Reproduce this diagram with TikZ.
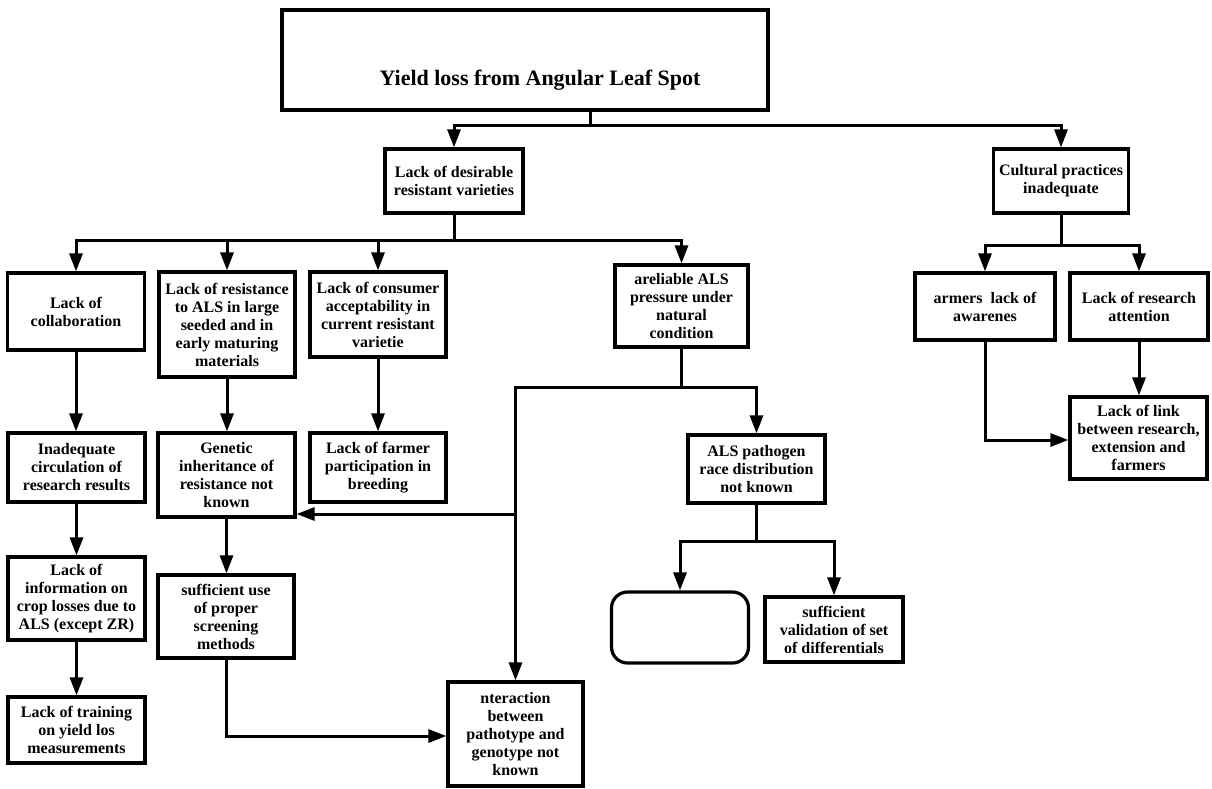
\documentclass[tikz,border=0pt]{standalone}
\usepackage{fontspec}
\setmainfont{Liberation Serif}
\usetikzlibrary{arrows.meta}
\begin{document}
\begin{tikzpicture}[x=1pt,y=-1pt,
  box/.style={draw, line width=3.2pt, align=center, inner sep=2pt,
    font=\fontsize{16}{18}\selectfont\bfseries},
  conn/.style={line width=3pt},
  arr/.style={conn, -{Triangle[length=18pt,width=13pt]}},
]
\useasboundingbox (0,0) rectangle (1212,788);

% root
\node[box, minimum width=486pt, minimum height=100pt, font=\fontsize{22}{26}\selectfont\bfseries]
  (title) at (525,60) {\rule{0pt}{55pt}\hspace*{30pt}Yield loss from Angular Leaf Spot};

% first level
\node[box, minimum width=138pt, minimum height=64pt] (desir) at (454,181)
  {Lack of desirable\\resistant varieties};
\node[box, minimum width=135pt, minimum height=64pt] (cult) at (1061,181)
  {Cultural practices\\inadequate};

% breeding branch
\node[box, minimum width=137pt, minimum height=77pt] (collab) at (76,311.5)
  {Lack of\\collaboration};
\node[box, minimum width=136pt, minimum height=105pt] (resist) at (227,324.5)
  {Lack of resistance\\to ALS in large\\seeded and in\\early maturing\\materials};
\node[box, minimum width=136pt, minimum height=85pt] (consumer) at (378,314.5)
  {Lack of consumer\\acceptability in\\current resistant\\varietie};
\node[box, minimum width=133pt, minimum height=82pt] (unrel) at (681.5,306)
  {areliable ALS\\pressure under\\natural\\condition};

\node[box, minimum width=137pt, minimum height=69pt] (circ) at (76.5,467.5)
  {Inadequate\\circulation of\\research results};
\node[box, minimum width=137pt, minimum height=84pt] (genet) at (226.5,475)
  {Genetic\\inheritance of\\resistance not\\known};
\node[box, minimum width=136pt, minimum height=69pt] (farmer) at (378,467.5)
  {Lack of farmer\\participation in\\breeding};
\node[box, minimum width=137pt, minimum height=68pt] (als) at (756.5,469)
  {ALS pathogen\\race distribution\\not known};

\node[box, minimum width=137pt, minimum height=83pt] (info) at (76.5,598.5)
  {Lack of\\information on\\crop losses due to\\ALS (except ZR)};
\node[box, minimum width=136pt, minimum height=83pt] (screen) at (226,616.5)
  {sufficient use\\of proper\\screening\\methods};
\node[box, minimum width=137pt, minimum height=71pt, rounded corners=16pt] (blank) at (680,627.5) {};
\node[box, minimum width=138pt, minimum height=65pt] (valid) at (834,629.5)
  {sufficient\\validation of set\\of differentials};

\node[box, minimum width=137pt, minimum height=66pt] (train) at (76.5,730)
  {Lack of training\\on yield los\\measurements};
\node[box, minimum width=135pt, minimum height=104pt] (inter) at (515.5,734)
  {nteraction\\between\\pathotype and\\genotype not\\known};

% cultural branch
\node[box, minimum width=140pt, minimum height=67pt] (aware) at (985,306.5)
  {armers\ \ lack of\\awarenes};
\node[box, minimum width=138pt, minimum height=67pt] (resatt) at (1139,306.5)
  {Lack of research\\attention};
\node[box, minimum width=137pt, minimum height=82pt] (link) at (1138.5,438)
  {Lack of link\\between research,\\extension and\\farmers};

% connectors from the root
\coordinate (tj) at (590,125);
\draw[conn] (title.south -| tj) -- (tj);
\draw[arr] (tj) -| (desir.north);
\draw[arr] (tj) -| (cult.north);

% breeding branch connectors
\coordinate (dj) at (454,240);
\draw[conn] (desir.south) -- (dj);
\draw[arr] (dj) -| (collab.north);
\draw[arr] (dj) -| (resist.north);
\draw[arr] (dj) -| (consumer.north);
\draw[arr] (dj) -| (unrel.north);

\draw[arr] (collab.south) -- (collab.south |- circ.north);
\draw[arr] (circ.south) -- (circ.south |- info.north);
\draw[arr] (info.south) -- (info.south |- train.north);
\draw[arr] (resist.south) -- (resist.south |- genet.north);
\draw[arr] (genet.south) -- (genet.south |- screen.north);
\draw[arr] (consumer.south) -- (consumer.south |- farmer.north);

\coordinate (uj) at (681.5,387);
\draw[conn] (unrel.south) -- (uj);
\draw[arr] (uj) -| (als.north);
\draw[arr] (uj) -| (inter.north);
\coordinate (gj) at (515.5,514);
\draw[arr] (gj) -- (gj -| genet.east);

\coordinate (sj) at (226,736);
\draw[arr] (screen.south) -- (sj) -- (sj -| inter.west);

\coordinate (aj) at (756.5,541);
\draw[conn] (als.south) -- (aj);
\draw[arr] (aj) -| (blank.north);
\draw[arr] (aj) -| (valid.north);

% cultural branch connectors
\coordinate (cj) at (1061,245);
\draw[conn] (cult.south) -- (cj);
\draw[arr] (cj) -| (aware.north);
\draw[arr] (cj) -| (resatt.north);
\draw[arr] (resatt.south) -- (resatt.south |- link.north);
\coordinate (wj) at (985,440);
\draw[arr] (aware.south) -- (wj) -- (wj -| link.west);
\end{tikzpicture}
\end{document}
